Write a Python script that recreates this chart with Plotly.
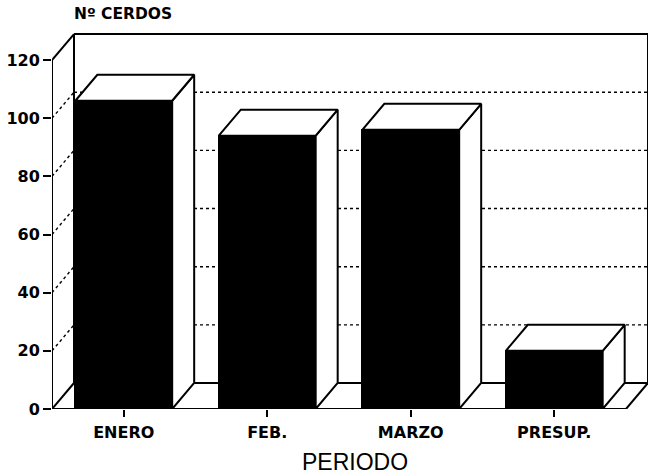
import plotly.graph_objects as go

# ---- data ----
categories = ["ENERO", "FEB.", "MARZO", "PRESUP."]
cerdos = [106, 94, 96, 20]
y_ticks = [0, 20, 40, 60, 80, 100, 120]
y_title = "Nº CERDOS"
x_title = "PERIODO"

# ---- geometry / styling ----
W, H = 650, 475
L, R, T, B = 52, 2, 30, 66
slot_px = 143.5
depth_px_x = 22
depth_px_y = 26
px_per_unit = 2.908
bar_w = 0.675
lw = 2

plot_w = W - L - R
plot_h = H - T - B
x0 = -0.5
x1 = x0 + plot_w / slot_px
y1 = plot_h / px_per_unit
dx = depth_px_x / slot_px
dy = depth_px_y / px_per_unit
xs = list(range(len(categories)))
xe = x0 + len(categories)
ymax = y_ticks[-1]

shapes = []

def seg(xa, ya, xb, yb, dash="solid", width=lw):
    shapes.append(dict(type="line", xref="x", yref="y", x0=xa, y0=ya, x1=xb, y1=yb,
                       line=dict(color="black", width=width, dash=dash), layer="below"))

# dotted gridlines: left wall diagonal + back wall horizontal
for t in y_ticks[1:-1]:
    seg(x0, t, x0 + dx, t + dy, dash="dot", width=1.4)
    seg(x0 + dx, t + dy, xe + dx, t + dy, dash="dot", width=1.4)

# solid frame
seg(x0, 0, x0, ymax)                         # front y axis
seg(x0, ymax, x0 + dx, ymax + dy)            # top-left diagonal
seg(x0 + dx, ymax + dy, xe + dx, ymax + dy)  # back top
seg(x0 + dx, dy, x0 + dx, ymax + dy)         # back wall left edge
seg(xe + dx, dy, xe + dx, ymax + dy)         # back wall right edge
seg(x0, 0, xe, 0)                            # floor front
seg(x0 + dx, dy, xe + dx, dy)                # floor back
seg(x0, 0, x0 + dx, dy)                      # floor left diagonal
seg(xe, 0, xe + dx, dy)                      # floor right diagonal

fig = go.Figure()

# front faces of bars
fig.add_trace(go.Bar(x=xs, y=cerdos, width=bar_w,
                     marker=dict(color="black", line=dict(color="black", width=lw)),
                     hoverinfo="skip", showlegend=False))

# side and top faces
for xi, v in zip(xs, cerdos):
    xl = xi - bar_w / 2
    xr = xi + bar_w / 2
    side_x = [xr, xr + dx, xr + dx, xr, xr]
    side_y = [0, dy, v + dy, v, 0]
    top_x = [xl, xl + dx, xr + dx, xr, xl]
    top_y = [v, v + dy, v + dy, v, v]
    for px, py in ((side_x, side_y), (top_x, top_y)):
        fig.add_trace(go.Scatter(x=px, y=py, mode="lines", fill="toself",
                                 fillcolor="white",
                                 line=dict(color="black", width=lw),
                                 hoverinfo="skip", showlegend=False))

tick_font = dict(family="DejaVu Sans", size=16, color="black", weight="bold")

fig.update_layout(
    width=W, height=H,
    margin=dict(l=L, r=R, t=T, b=B, pad=0, autoexpand=False),
    paper_bgcolor="white", plot_bgcolor="white",
    shapes=shapes,
    bargap=0,
    xaxis=dict(range=[x0, x1], tickmode="array", tickvals=xs, ticktext=categories,
               showgrid=False, zeroline=False, showline=False, automargin=False,
               ticks="outside", ticklen=7, tickwidth=2, tickcolor="black",
               ticklabelstandoff=2,
               tickfont=tick_font, fixedrange=True),
    yaxis=dict(range=[0, y1], tickmode="array", tickvals=y_ticks,
               showgrid=False, zeroline=False, showline=False, automargin=False,
               ticks="outside", ticklen=8, tickwidth=2, tickcolor="black",
               tickfont=tick_font, fixedrange=True),
    annotations=[
        dict(text=y_title, xref="paper", yref="paper",
             x=(72 - L) / plot_w, y=(H - B - 14) / plot_h,
             xanchor="left", yanchor="middle", showarrow=False,
             font=dict(family="DejaVu Sans", size=15.5, color="black", weight="bold")),
        dict(text=x_title, xref="paper", yref="paper",
             x=(355 - L) / plot_w, y=(H - B - 462) / plot_h,
             xanchor="center", yanchor="middle", showarrow=False,
             font=dict(family="Liberation Sans", size=23, color="black")),
    ],
)

fig.write_html("out.html",
               config={"displayModeBar": False},
               post_script="document.body.style.margin='0px';"
                           "document.body.style.overflow='hidden';")
